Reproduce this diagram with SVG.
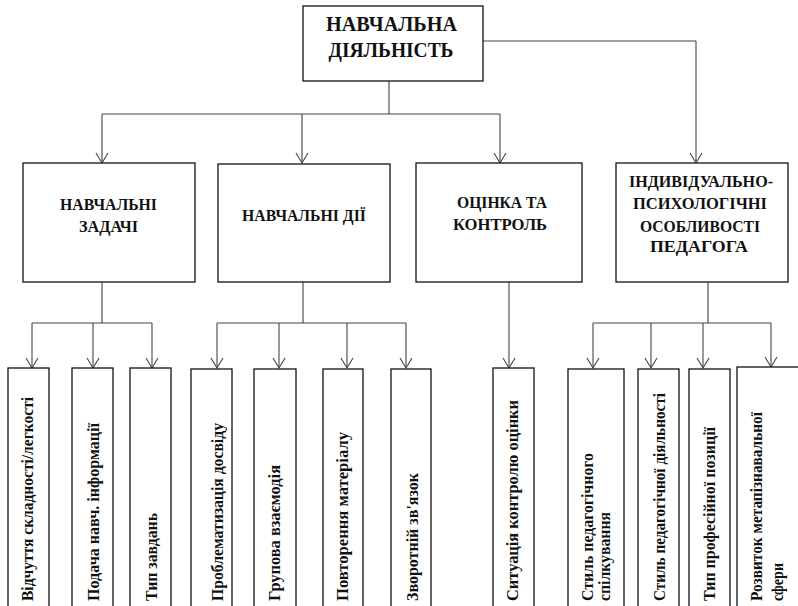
<svg xmlns="http://www.w3.org/2000/svg" width="798" height="606" viewBox="0 0 798 606">
<style>
.box{fill:#fff;stroke:#111;stroke-width:1.3}
.con{fill:none;stroke:#444;stroke-width:1.1}
.arr{fill:none;stroke:#444;stroke-width:1.1;marker-end:url(#ah)}
text{font-weight:bold;fill:#111}
.title{font-size:20px;text-anchor:middle}
.hd{font-size:16px;text-anchor:middle}
.vt{font-size:16.5px}
</style>
<defs>
<marker id="ah" viewBox="0 0 12 14" refX="10" refY="6" markerWidth="12" markerHeight="14" markerUnits="userSpaceOnUse" orient="auto" overflow="visible">
<path d="M0,0 L10,6 L0,12" fill="none" stroke="#444" stroke-width="1.1"/>
</marker>
</defs>
<rect width="798" height="606" fill="#fff"/>
<g id="connectors">
<path class="con" d="M389,81 V114 M102,114 H500 M483,41 H696"/>
<path class="arr" d="M102,114 V163"/>
<path class="arr" d="M302,114 V163"/>
<path class="arr" d="M500,114 V163"/>
<path class="arr" d="M696,41 V163"/>
<path class="con" d="M102,282 V323 M32,323 H152"/>
<path class="arr" d="M32,323 V368"/>
<path class="arr" d="M93,323 V368"/>
<path class="arr" d="M152,323 V368"/>
<path class="con" d="M303,282 V323 M217,323 H406"/>
<path class="arr" d="M217,323 V368"/>
<path class="arr" d="M279,323 V368"/>
<path class="arr" d="M347,323 V368"/>
<path class="arr" d="M406,323 V368"/>
<path class="arr" d="M509,282 V368"/>
<path class="con" d="M708,282 V323 M593,323 H771"/>
<path class="arr" d="M593,323 V368"/>
<path class="arr" d="M651,323 V368"/>
<path class="arr" d="M703,323 V368"/>
<path class="arr" d="M771,323 V367"/>
</g>
<g font-family="Liberation Serif, Times New Roman, serif">
<g id="root">
<rect class="box" x="303" y="6" width="180" height="75"/>
<text class="title" x="391.5" y="31" textLength="131" lengthAdjust="spacingAndGlyphs">НАВЧАЛЬНА</text>
<text class="title" x="391" y="57" textLength="125" lengthAdjust="spacingAndGlyphs">ДІЯЛЬНІСТЬ</text>
</g>
<g id="tasks">
<rect class="box" x="23" y="163" width="172" height="119"/>
<text class="hd" x="108.5" y="210" textLength="97" lengthAdjust="spacingAndGlyphs">НАВЧАЛЬНІ</text>
<text class="hd" x="108.5" y="232" textLength="59" lengthAdjust="spacingAndGlyphs">ЗАДАЧІ</text>
</g>
<g id="actions">
<rect class="box" x="218" y="164" width="172" height="118"/>
<text class="hd" x="304" y="221" textLength="124" lengthAdjust="spacingAndGlyphs">НАВЧАЛЬНІ ДІЇ</text>
</g>
<g id="assessment">
<rect class="box" x="416" y="163" width="166" height="119"/>
<text class="hd" x="502" y="208" textLength="90" lengthAdjust="spacingAndGlyphs">ОЦІНКА ТА</text>
<text class="hd" x="500" y="230" textLength="94" lengthAdjust="spacingAndGlyphs">КОНТРОЛЬ</text>
</g>
<g id="individual">
<rect class="box" x="616" y="163" width="172" height="119"/>
<text class="hd" x="701" y="187" textLength="144" lengthAdjust="spacingAndGlyphs">ІНДИВІДУАЛЬНО-</text>
<text class="hd" x="700" y="209" textLength="134" lengthAdjust="spacingAndGlyphs">ПСИХОЛОГІЧНІ</text>
<text class="hd" x="700" y="232" textLength="120" lengthAdjust="spacingAndGlyphs">ОСОБЛИВОСТІ</text>
<text class="hd" x="699" y="252" textLength="98" lengthAdjust="spacingAndGlyphs">ПЕДАГОГА</text>
</g>
<g id="n-a">
<rect class="box" x="8" y="368" width="41" height="250"/>
<text class="vt" transform="translate(33,601) rotate(-90)" textLength="204" lengthAdjust="spacingAndGlyphs">Відчуття складності/легкості</text>
</g>
<g id="n-b">
<rect class="box" x="72" y="368" width="41" height="250"/>
<text class="vt" transform="translate(99,601) rotate(-90)" textLength="178" lengthAdjust="spacingAndGlyphs">Подача навч. інформації</text>
</g>
<g id="n-c">
<rect class="box" x="130" y="368" width="41" height="250"/>
<text class="vt" transform="translate(157,601) rotate(-90)" textLength="88" lengthAdjust="spacingAndGlyphs">Тип завдань</text>
</g>
<g id="n-d">
<rect class="box" x="191" y="369" width="41" height="250"/>
<text class="vt" transform="translate(223,601) rotate(-90)" textLength="178" lengthAdjust="spacingAndGlyphs">Проблематизація досвіду</text>
</g>
<g id="n-e">
<rect class="box" x="254" y="369" width="42" height="250"/>
<text class="vt" transform="translate(280,601) rotate(-90)" textLength="136" lengthAdjust="spacingAndGlyphs">Групова взаємодія</text>
</g>
<g id="n-f">
<rect class="box" x="323" y="369" width="40" height="250"/>
<text class="vt" transform="translate(348,601) rotate(-90)" textLength="169" lengthAdjust="spacingAndGlyphs">Повторення матеріалу</text>
</g>
<g id="n-g">
<rect class="box" x="391" y="369" width="40" height="250"/>
<text class="vt" transform="translate(418,601) rotate(-90)" textLength="128" lengthAdjust="spacingAndGlyphs">Зворотній зв'язок</text>
</g>
<g id="n-h">
<rect class="box" x="493" y="368" width="41" height="250"/>
<text class="vt" transform="translate(518,601) rotate(-90)" textLength="201" lengthAdjust="spacingAndGlyphs">Ситуація контролю  оцінки</text>
</g>
<g id="n-i">
<rect class="box" x="568" y="369" width="56" height="250"/>
<text class="vt" transform="translate(593,601) rotate(-90)" textLength="148" lengthAdjust="spacingAndGlyphs">Стиль педагогічного</text>
<text class="vt" transform="translate(610,601) rotate(-90)" textLength="89" lengthAdjust="spacingAndGlyphs">спілкування</text>
</g>
<g id="n-j">
<rect class="box" x="638" y="369" width="41" height="250"/>
<text class="vt" transform="translate(665,601) rotate(-90)" textLength="208" lengthAdjust="spacingAndGlyphs">Стиль педагогічної діяльності</text>
</g>
<g id="n-k">
<rect class="box" x="689" y="369" width="41" height="250"/>
<text class="vt" transform="translate(715,601) rotate(-90)" textLength="174" lengthAdjust="spacingAndGlyphs">Тип професійної позиції</text>
</g>
<g id="n-l">
<rect class="box" x="737" y="367" width="70" height="250"/>
<text class="vt" transform="translate(762,601) rotate(-90)" textLength="189" lengthAdjust="spacingAndGlyphs">Розвиток метапізнавальної</text>
<text class="vt" transform="translate(783,601) rotate(-90)" textLength="38" lengthAdjust="spacingAndGlyphs">сфери</text>
</g>
</g>
</svg>
